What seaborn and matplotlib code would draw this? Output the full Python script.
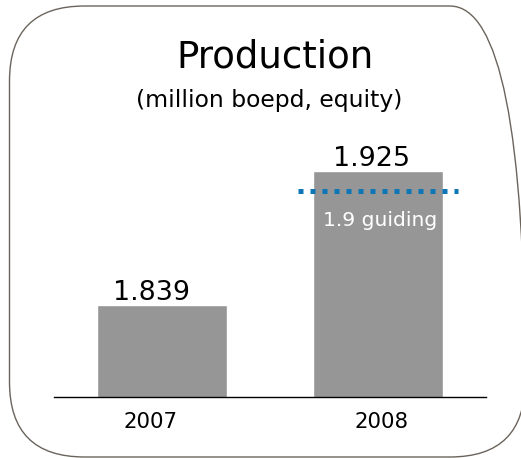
import matplotlib
matplotlib.use("Agg")
import matplotlib.pyplot as plt
from matplotlib.patches import FancyBboxPatch
from matplotlib.transforms import ScaledTranslation
import seaborn as sns
import pandas as pd

# ---- data ----
years = ["2007", "2008"]
production = [1.839, 1.925]
value_labels = ["1.839", "1.925"]
guide_level = 1.912
guide_label = "1.9 guiding"
title = "Production"
subtitle = "(million boepd, equity)"

# ---- styling (horizontal nudges of labels, in pixels) ----
value_shift_px = [-10, -6]
year_shift_px = [-11, 4]

sns.set_theme(style="white")
plt.rcParams["font.family"] = ["DejaVu Sans"]

W, H = 521, 458
fig = plt.figure(figsize=(W / 100, H / 100), dpi=100)
fig.patch.set_facecolor("white")

ax = fig.add_axes([54 / W, (H - 397) / H, 432 / W, 397 / H])
df = pd.DataFrame({"year": years, "value": production})
sns.barplot(data=df, x="year", y="value", color="#969696", saturation=1,
            width=0.6, ax=ax)
ax.set_xlim(-0.5, 1.5)
ymin = 1.78
ax.set_ylim(ymin, ymin + 397 / 1558)

for s in ["top", "right", "left"]:
    ax.spines[s].set_visible(False)
ax.spines["bottom"].set_color("black")
ax.spines["bottom"].set_linewidth(1.0)
ax.set_yticks([])
ax.set_xlabel("")
ax.set_ylabel("")
ax.tick_params(axis="x", length=0, pad=11, labelsize=15.3, labelcolor="black")
for lab, dx in zip(ax.get_xticklabels(), year_shift_px):
    lab.set_transform(lab.get_transform() + ScaledTranslation(dx / 100, 0, fig.dpi_scale_trans))

# value labels
for i, (v, lab) in enumerate(zip(production, value_labels)):
    ax.annotate(lab, (i, v), xytext=(value_shift_px[i] * 0.72, 4), textcoords="offset points",
                ha="center", va="baseline", fontsize=19.4, color="black")

# guide line
ax.hlines(guide_level, 1 - 0.37, 1 + 0.37, colors="#0e76b6", linewidth=3.6,
          linestyles=(0, (1, 1.4)), zorder=5)
ax.annotate(guide_label, (1, guide_level), xytext=(1.5, -25), textcoords="offset points",
            ha="center", va="baseline", fontsize=14.6, color="white", zorder=6)

# title
fig.text(275 / W, 1 - 68 / H, title, ha="center", va="baseline", fontsize=26.7, color="black")
fig.text(269 / W, 1 - 107 / H, subtitle, ha="center", va="baseline", fontsize=16.9, color="black")

# rounded border
box = FancyBboxPatch((0.095, 0.01), 5.25 - 0.095, 4.52 - 0.01,
                     boxstyle="round,pad=0,rounding_size=0.75",
                     transform=fig.dpi_scale_trans, facecolor="none",
                     edgecolor="#6b645c", linewidth=1.0, clip_on=False)
fig.patches.append(box)

fig.savefig("out.png", dpi=100)
